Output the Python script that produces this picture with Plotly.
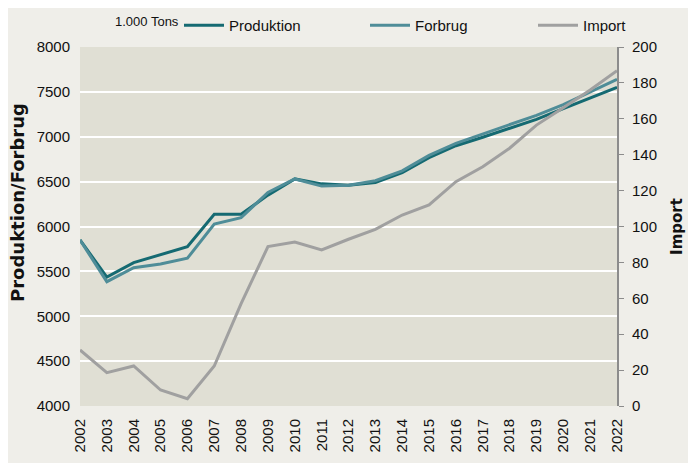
import plotly.graph_objects as go

years = [str(y) for y in range(2002, 2023)]

produktion = [5850, 5437, 5597, 5690, 5775, 6136, 6136, 6350, 6530, 6475, 6460,
              6490, 6600, 6767, 6900, 6994, 7090, 7194, 7313, 7428, 7551]
forbrug = [5850, 5385, 5541, 5582, 5646, 6028, 6098, 6380, 6530, 6450, 6460,
           6510, 6620, 6793, 6927, 7031, 7131, 7239, 7357, 7495, 7640]
importx = [31.2, 18.6, 22.3, 8.9, 4.1, 22.3, 57, 88.8, 91.4, 86.9, 92.9,
           98.4, 106.4, 112, 125, 133.3, 143.6, 156.5, 166.2, 176, 186.8]

fig = go.Figure()
fig.add_trace(go.Scatter(x=years, y=produktion, name='Produktion', mode='lines',
                         line=dict(color='#156A72', width=3), legend='legend'))
fig.add_trace(go.Scatter(x=years, y=forbrug, name='Forbrug', mode='lines',
                         line=dict(color='#4F8D98', width=3), legend='legend2'))
fig.add_trace(go.Scatter(x=years, y=importx, name='Import', mode='lines', yaxis='y2',
                         line=dict(color='#A0A0A0', width=3), legend='legend3'))

# page body has an 8px margin, so everything is laid out 8px up/left
off = 8
W, H = 696, 463
font = 'Liberation Sans, Arial, sans-serif'
bold = 'DejaVu Sans, Verdana, sans-serif'


def leg(px):
    return dict(orientation='h', xref='container', x=(px - off) / W, xanchor='left',
                yref='container', y=1 - (9 - off) / H, yanchor='top',
                bgcolor='rgba(0,0,0,0)', font=dict(size=15), itemwidth=40)


fig.update_layout(
    width=W, height=H,
    paper_bgcolor='#EFEEE9', plot_bgcolor='#E0DFD4',
    margin=dict(l=80 - off, r=79 + off, t=47 - off, b=57 + off, autoexpand=False),
    font=dict(family=font, size=15, color='#111111'),
    showlegend=True,
    legend=leg(179), legend2=leg(365), legend3=leg(533),
    xaxis=dict(type='category', tickangle=-90, showgrid=False, ticks='',
               showline=False, automargin=False, tickfont=dict(size=15),
               ticklabelstandoff=9),
    yaxis=dict(range=[4000, 8000], dtick=500, gridcolor='white', gridwidth=2,
               zeroline=False, showline=False, ticks='', automargin=False,
               ticklabelstandoff=9),
    yaxis2=dict(range=[0, 200], dtick=20, overlaying='y', side='right',
                showgrid=False, zeroline=False, showline=True, linecolor='#8C8C8C',
                linewidth=2, ticks='outside', ticklen=5, tickcolor='#8C8C8C',
                automargin=False, ticklabelstandoff=5,
                title=dict(text='<b>Import</b>', font=dict(family=bold, size=15),
                           standoff=15)),
    annotations=[
        dict(text='1.000 Tons', xref='paper', yref='paper',
             x=(113 - 80) / 537, y=(406 - 22) / 359,
             xanchor='left', yanchor='middle', showarrow=False, font=dict(size=13)),
        dict(text='<b>Produktion/Forbrug</b>', xref='paper', yref='paper',
             x=(17 - 80) / 537, y=(406 - 203) / 359, textangle=-90,
             xanchor='center', yanchor='middle', showarrow=False,
             font=dict(family=bold, size=18)),
    ],
)

fig.write_html("out.html")
